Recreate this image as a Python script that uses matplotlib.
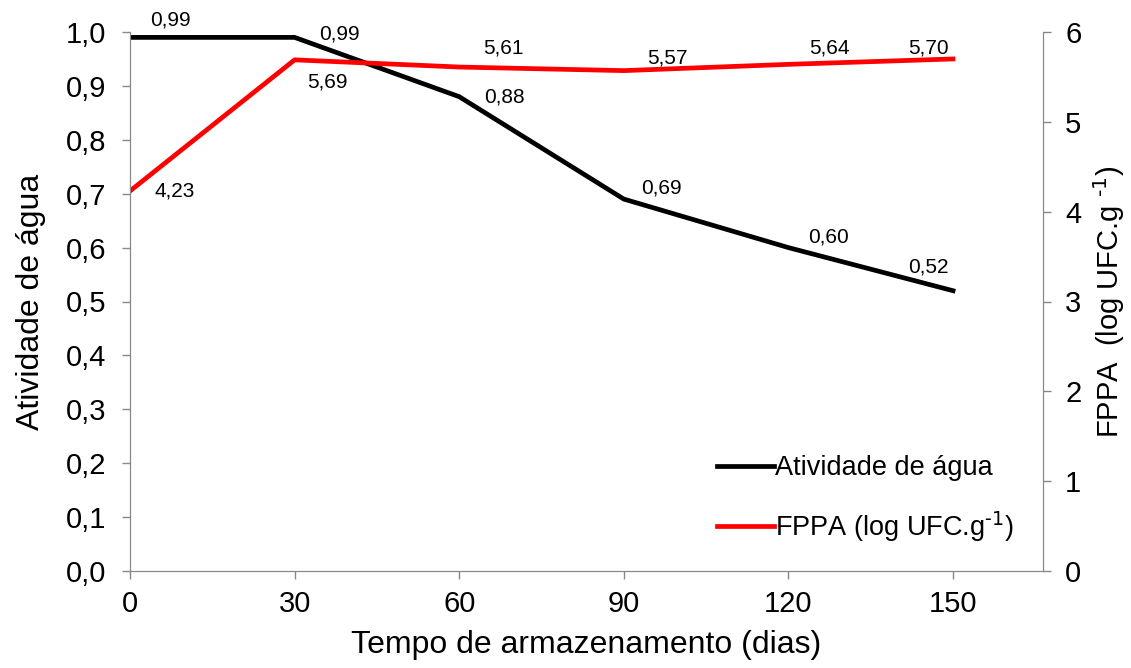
import matplotlib.pyplot as plt

plt.rcParams['font.family'] = ['Liberation Sans', 'DejaVu Sans']

dias = [0, 30, 60, 90, 120, 150]
atividade_agua = [0.99, 0.99, 0.88, 0.69, 0.60, 0.52]
fppa = [4.23, 5.69, 5.61, 5.57, 5.64, 5.70]

# label offsets (pixels) relative to each point
off_aw = [(40, 17), (45, 3), (45, 0), (38, 11), (40, 11), (-25, 24)]
off_fp = [(45, 0), (33, -22), (44, 19), (44, 13), (41, 16), (-25, 11)]

fig = plt.figure(figsize=(11.31, 6.68), dpi=100)
ax = fig.add_axes([130 / 1131, 1 - 571 / 668, (1043 - 130) / 1131, (571 - 32) / 668])
ax2 = ax.twinx()

l1, = ax.plot(dias, atividade_agua, color='black', lw=3.4, label='Atividade de água', zorder=3)
l2, = ax2.plot(dias, fppa, color='#ff0000', lw=3.4, label=r'FPPA (log UFC.g$^{\text{-1}}$)')

ax.set_xlim(0, 166.4)
ax.set_ylim(0, 1.0)
ax2.set_ylim(0, 6)
ax.set_xticks(dias)
ax.set_yticks([i / 10 for i in range(11)])
ax2.set_yticks(range(7))

def virgula(v, _):
    return f"{v:.1f}".replace('.', ',')

ax.yaxis.set_major_formatter(plt.FuncFormatter(virgula))

for a in (ax, ax2):
    for s in a.spines.values():
        s.set_color('#888888')
    a.spines['top'].set_visible(False)
    a.tick_params(colors='#888888', labelcolor='black', labelsize=21, length=6, width=1)
ax.tick_params(axis='x', pad=8)
ax.tick_params(axis='y', pad=11)
ax2.tick_params(axis='y', pad=10)

for x, y, (dx, dy) in zip(dias, atividade_agua, off_aw):
    ax.annotate(f"{y:.2f}".replace('.', ','), (x, y), xytext=(dx, dy),
                textcoords='offset pixels', ha='center', va='center', fontsize=15)
for x, y, (dx, dy) in zip(dias, fppa, off_fp):
    ax2.annotate(f"{y:.2f}".replace('.', ','), (x, y), xytext=(dx, dy),
                 textcoords='offset pixels', ha='center', va='center', fontsize=15)

ax.set_xlabel('Tempo de armazenamento (dias)', fontsize=23, labelpad=8)
ax.set_ylabel('Atividade de água', fontsize=23, labelpad=14)
ax2.set_ylabel(r'FPPA  (log UFC.g $^{\text{-1}}$)', fontsize=21, labelpad=7)

ax2.legend(handles=[l1, l2], loc='lower right', bbox_to_anchor=(0.995, 0.005),
           frameon=False, fontsize=19.5, handlelength=2.1, handletextpad=0.05,
           labelspacing=1.05)

fig.savefig('out.png', dpi=100)
